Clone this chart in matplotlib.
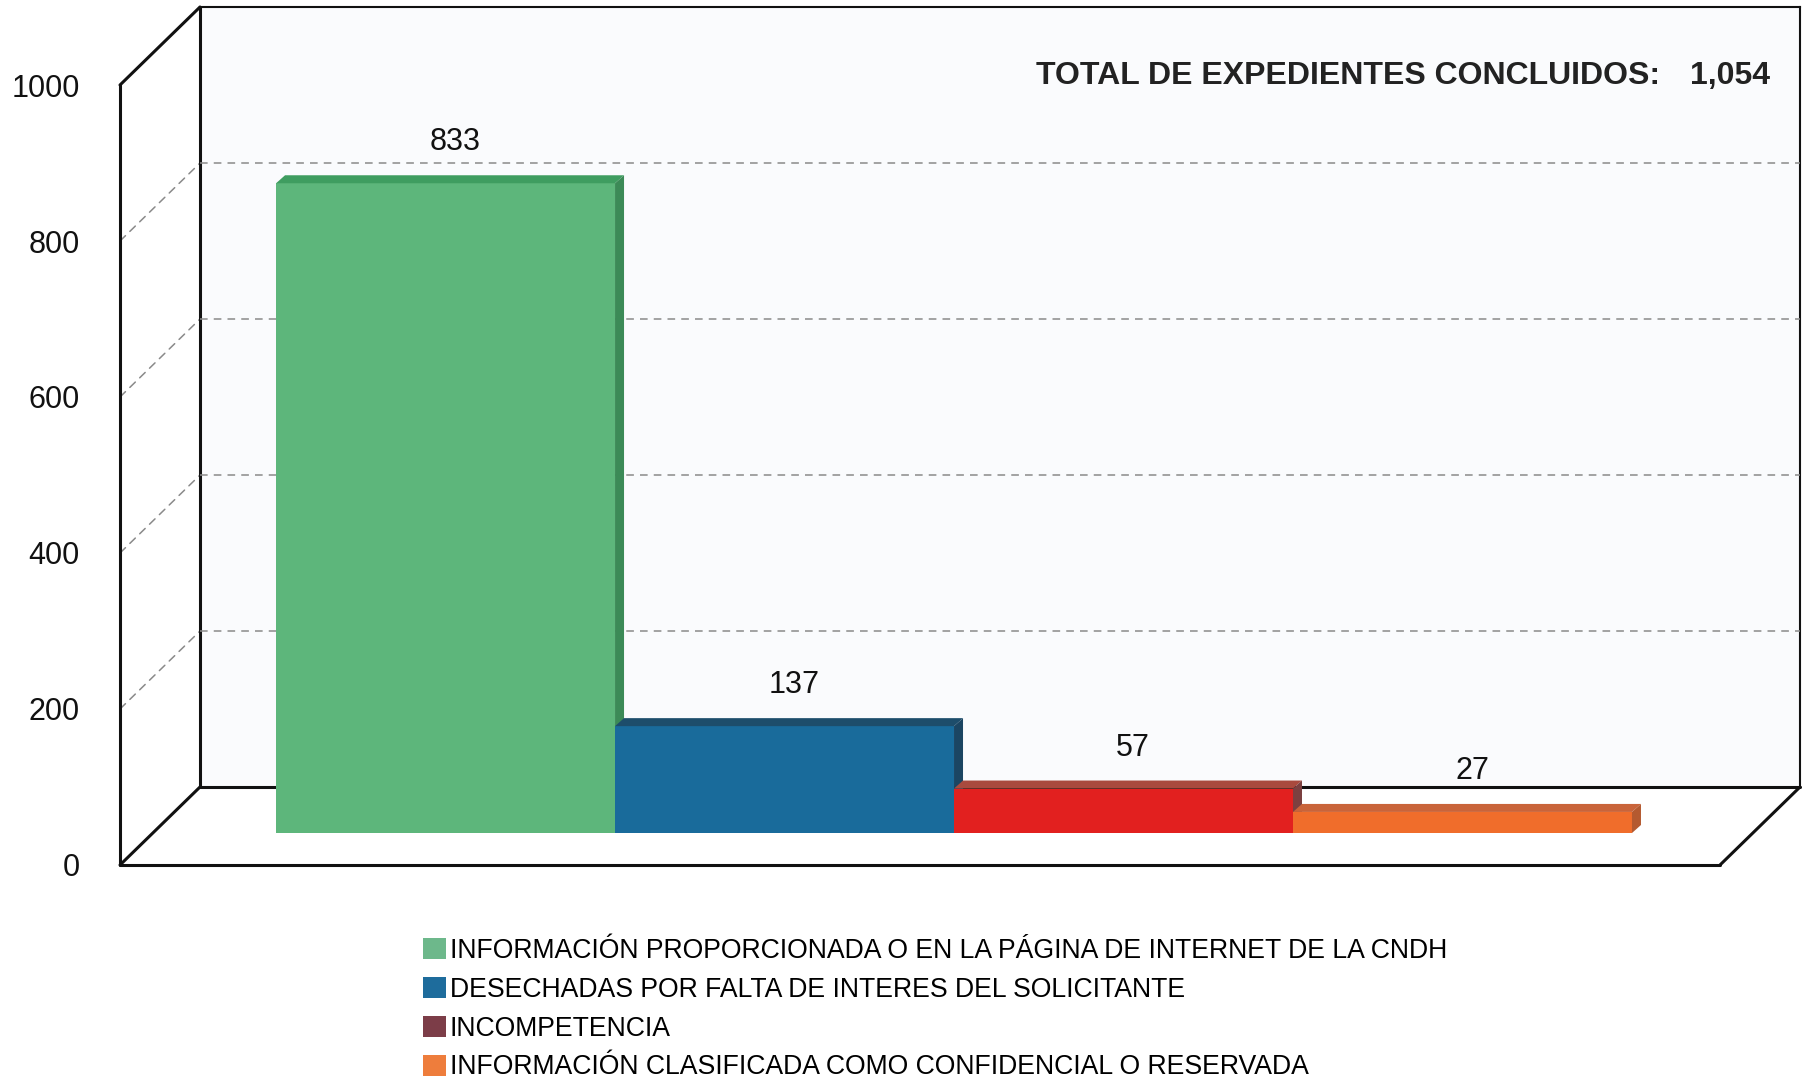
import matplotlib
matplotlib.use("Agg")
import matplotlib.pyplot as plt
from matplotlib.patches import Polygon, Patch
from matplotlib.patches import ConnectionPatch

plt.rcParams["font.family"] = ["Liberation Sans", "DejaVu Sans"]

# -------------------------------------------------------------
# Data
# -------------------------------------------------------------
categorias = [
    "INFORMACIÓN PROPORCIONADA O EN LA PÁGINA DE INTERNET DE LA CNDH",
    "DESECHADAS POR FALTA DE INTERES DEL SOLICITANTE",
    "INCOMPETENCIA",
    "INFORMACIÓN CLASIFICADA COMO CONFIDENCIAL O RESERVADA",
]
valores = [833, 137, 57, 27]
total = 1054
yticks = [0, 200, 400, 600, 800, 1000]

col_front = ["#5db67b", "#196b9b", "#e2201f", "#f06d2b"]
col_top = ["#3f9d60", "#1d4d6b", "#a94a3e", "#c9643a"]
col_side = ["#3c8a57", "#1b4562", "#7b4040", "#b45a30"]
col_legend = ["#6db88b", "#1e6c9c", "#7c3d48", "#ee7d3c"]

# -------------------------------------------------------------
# Geometry (pixels, figure 1802x1078 @ 100 dpi)
# -------------------------------------------------------------
W, H = 1802, 1078
fig = plt.figure(figsize=(W / 100, H / 100), dpi=100)
fig.patch.set_facecolor("white")

front_left, front_right = 120, 1720
front_y0, front_y1 = 865, 85          # value 0 / 1000 (pixels from top)
depth = (80, 78)                       # back wall offset
bar_depth = (33, 32)                   # bar plane offset
face = (9, 8)                          # bar thickness

xmin, xmax = -0.363, 4.357
ymin, ymax = 0, 1000


def make_axes(dx, dy, z):
    rect = [(front_left + dx) / W, (H - front_y0 + dy) / H,
            (front_right - front_left) / W, (front_y0 - front_y1) / H]
    a = fig.add_axes(rect, zorder=z)
    a.set_xlim(xmin, xmax)
    a.set_ylim(ymin, ymax)
    a.patch.set_alpha(0)
    for s in a.spines.values():
        s.set_visible(False)
    return a


ax_b = make_axes(depth[0], depth[1], 1)
ax_f = make_axes(0, 0, 2)
ax_m = make_axes(bar_depth[0], bar_depth[1], 3)

ax_b.patch.set_alpha(1)
ax_b.patch.set_facecolor("#fafbfd")
ax_b.set_xticks([])
ax_b.set_yticks([])
ax_m.set_xticks([])
ax_m.set_yticks([])

ax_f.set_xticks([])
ax_f.set_yticks(yticks)
ax_f.tick_params(axis="y", length=0, pad=29, labelsize=22, labelcolor="#111111")

# -------------------------------------------------------------
# Box frame
# -------------------------------------------------------------
lk = dict(color="#111111", lw=2.2, solid_capstyle="round", clip_on=False)
ax_f.plot([xmin, xmin], [ymin, ymax], **lk)
ax_f.plot([xmin, xmax], [ymin, ymin], **lk)
ax_b.plot([xmin, xmin], [ymin, ymax], **lk)
ax_b.plot([xmin, xmax], [ymin, ymin], **lk)
ax_b.plot([xmax, xmax], [ymin, ymax], color="#111111", lw=1.5, clip_on=False)
ax_b.plot([xmin, xmax], [ymax, ymax], color="#111111", lw=1.5, clip_on=False)

for xa, ya in [(xmin, ymax), (xmin, ymin), (xmax, ymin)]:
    cp = ConnectionPatch(xyA=(xa, ya), coordsA=ax_f.transData,
                         xyB=(xa, ya), coordsB=ax_b.transData,
                         color="#111111", lw=2.2)
    fig.add_artist(cp)

# gridlines on back wall + side wall
for v in yticks[1:-1]:
    ax_b.plot([xmin, xmax], [v, v], color="#8a8a8a", lw=1.1,
              ls=(0, (5, 4)), clip_on=False)
    cp = ConnectionPatch(xyA=(xmin, v), coordsA=ax_f.transData,
                         xyB=(xmin, v), coordsB=ax_b.transData,
                         color="#8a8a8a", lw=1.1, ls=(0, (5, 4)))
    fig.add_artist(cp)

# -------------------------------------------------------------
# Bars (pseudo 3D)
# -------------------------------------------------------------
px_x = (xmax - xmin) / (front_right - front_left)
px_y = (ymax - ymin) / (front_y0 - front_y1)
ddx, ddy = face[0] * px_x, face[1] * px_y

bars = ax_m.bar(range(len(valores)), valores, width=1.0, align="edge",
                color=col_front, edgecolor="none")
for i, b in enumerate(bars):
    x0, w, h = b.get_x(), b.get_width(), b.get_height()
    b.set_zorder(3 + 2 * i)
    top = Polygon([(x0, h), (x0 + ddx, h + ddy), (x0 + w + ddx, h + ddy), (x0 + w, h)],
                  closed=True, facecolor=col_top[i], edgecolor="none", zorder=3 + 2 * i)
    side = Polygon([(x0 + w, 0), (x0 + w + ddx, ddy), (x0 + w + ddx, h + ddy), (x0 + w, h)],
                   closed=True, facecolor=col_side[i], edgecolor="none", zorder=3 + 2 * i)
    ax_m.add_patch(top)
    ax_m.add_patch(side)
    ax_m.annotate(f"{valores[i]}", (x0 + w / 2, h), xytext=(7, 29.5),
                  textcoords="offset points", ha="center", va="center",
                  fontsize=22, color="#111111", annotation_clip=False)

# -------------------------------------------------------------
# Total and legend
# -------------------------------------------------------------
fig.text(1660 / W, 1 - 76 / H, "TOTAL DE EXPEDIENTES CONCLUIDOS:", ha="right",
         va="center", fontsize=23, fontweight="bold", color="#222222")
fig.text(1770 / W, 1 - 76 / H, f"{total:,}", ha="right", va="center",
         fontsize=23, fontweight="bold", color="#222222")

handles = [Patch(facecolor=c, edgecolor="none") for c in col_legend]
fig.legend(handles, categorias, loc="upper left",
           bbox_to_anchor=(423 / W, 1 - 938 / H), frameon=False,
           borderpad=0, borderaxespad=0, handlelength=0.85, handleheight=0.85,
           handletextpad=0.15, labelspacing=0.48,
           prop={"size": 19.2})

fig.savefig("out.png", dpi=100, facecolor="white")
